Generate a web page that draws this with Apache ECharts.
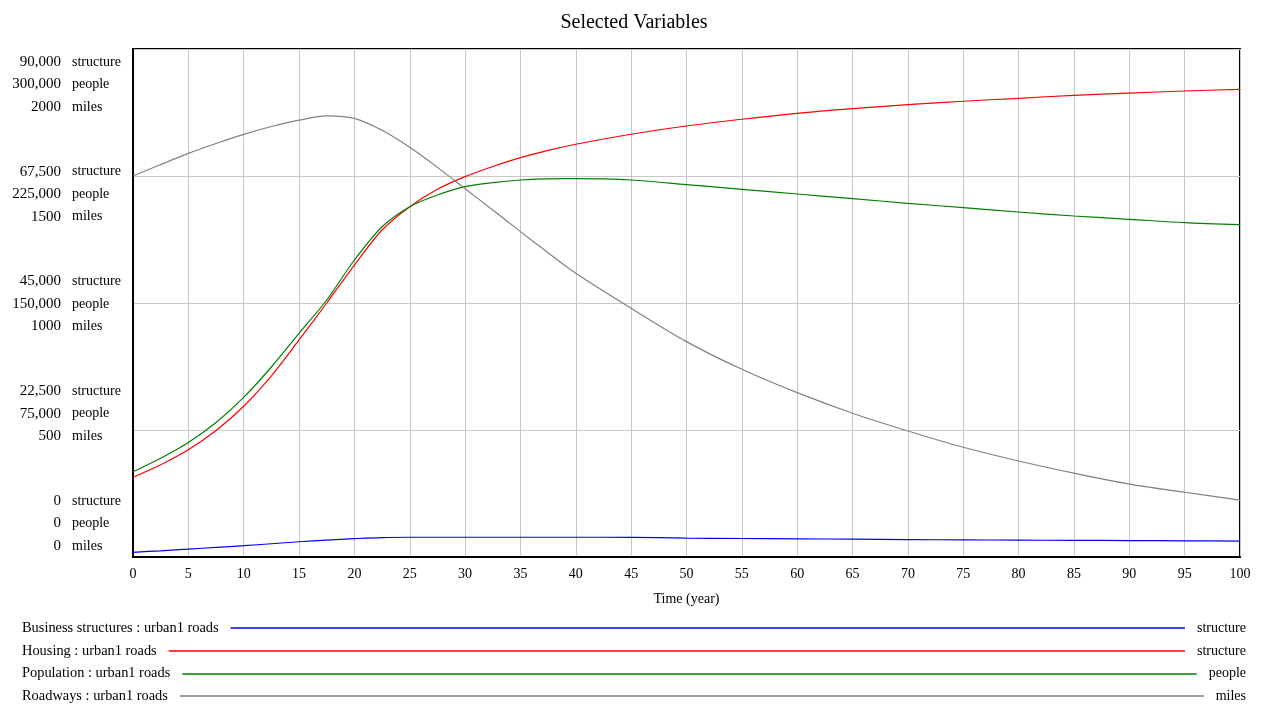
<!DOCTYPE html>
<html>
<head>
<meta charset="utf-8">
<script src="https://cdn.jsdelivr.net/npm/echarts@6/dist/echarts.min.js"></script>
<style>
html,body{margin:0;padding:0;background:#fff;}
#chart{width:1262px;height:707px;}
</style>
</head>
<body>
<div id="chart"></div>
<script>
// ---- data ----
const years = [0,2.5,5,7.5,10,12.5,15,17.5,20,22.5,25,27.5,30,32.5,35,37.5,40,45,50,55,60,65,70,75,80,85,90,95,100];
const businessStructures = [830,1100,1400,1700,2000,2350,2700,3000,3250,3450,3500,3500,3500,3500,3500,3500,3500,3480,3350,3280,3220,3160,3080,3030,2990,2950,2910,2860,2820];
const housing = [14120,16350,19000,22400,26700,32100,38450,45000,51730,57935,62060,65150,67380,69190,70760,72050,73130,74900,76360,77550,78610,79430,80130,80740,81270,81800,82200,82560,82860];
const population = [50370,58300,67600,79400,94300,112200,132100,151770,175400,195060,206870,213780,218680,221100,222640,223350,223400,222640,219900,217140,214370,211590,208880,206280,203740,201370,199430,197420,196240];
const roadways = [1500,1545,1589,1628,1664,1695,1720,1737,1727,1680,1613,1534,1450,1366,1281,1198,1117,979,848,739,647,566,496,432,378,330,287,255,224];

const structureTicks = ['90,000','67,500','45,000','22,500','0'];
const peopleTicks = ['300,000','225,000','150,000','75,000','0'];
const milesTicks = ['2000','1500','1000','500','0'];

const legendNames = ['Business structures : urban1 roads','Housing : urban1 roads','Population : urban1 roads','Roadways : urban1 roads'];
const legendUnits = ['structure','structure','people','miles'];
const seriesColors = ['#0000ff','#ff0000','#008000','#808080'];

// ---- chart ----
const FONT = "'Liberation Serif', 'Times New Roman', serif";
const NAME_FONT = '14.4px ' + FONT;
const UNIT_FONT = '14px ' + FONT;
const NUM_FONT = '15px ' + FONT;
const chart = echarts.init(document.getElementById('chart'));

function pairs(vals){ return years.map((t,i)=>[t, vals[i]]); }

const ctx = document.createElement('canvas').getContext('2d');
function tw(s, font){ ctx.font = font; return ctx.measureText(s).width; }

const graphics = [];
// y axis labels
for (let i = 0; i < 5; i++) {
  const base = 62 + i * 109.75;
  const rows = [[structureTicks[i],'structure',base],[peopleTicks[i],'people',base+22.5],[milesTicks[i],'miles',base+45]];
  rows.forEach(r => {
    graphics.push({type:'text', style:{text:r[0], x:61, y:r[2], fill:'#000', font:NUM_FONT, textAlign:'right', textVerticalAlign:'middle'}});
    graphics.push({type:'text', style:{text:r[1], x:72, y:r[2], fill:'#000', font:UNIT_FONT, textAlign:'left', textVerticalAlign:'middle'}});
  });
}
// legend
const legendY = [628, 651, 673.5, 696];
legendNames.forEach((n, i) => {
  const y = legendY[i];
  graphics.push({type:'text', style:{text:n, x:22, y:y, fill:'#000', font:NAME_FONT, textAlign:'left', textVerticalAlign:'middle'}});
  graphics.push({type:'text', style:{text:legendUnits[i], x:1246, y:y, fill:'#000', font:UNIT_FONT, textAlign:'right', textVerticalAlign:'middle'}});
  const x1 = 22 + tw(n, NAME_FONT) + 12;
  const x2 = 1246 - tw(legendUnits[i], UNIT_FONT) - 12;
  graphics.push({type:'line', shape:{x1:x1, y1:Math.round(y), x2:x2, y2:Math.round(y)}, style:{stroke:seriesColors[i], lineWidth:1.5}});
});

const option = {
  animation: false,
  backgroundColor: '#fff',
  title: {
    text: 'Selected Variables',
    left: 629, top: 8, textAlign: 'center',
    textStyle: {fontFamily: FONT, fontSize: 20, fontWeight: 'normal', color: '#000'}
  },
  grid: {left: 133, right: 22, top: 49, bottom: 150, show: true, borderColor: '#000', borderWidth: 2, backgroundColor: 'transparent'},
  xAxis: {
    type: 'value', min: 0, max: 100, interval: 5,
    name: 'Time (year)', nameLocation: 'middle', nameGap: 35,
    nameTextStyle: {fontFamily: FONT, fontSize: 14, color: '#000'},
    axisLine: {show: true, lineStyle: {color: '#000', width: 2}},
    axisTick: {show: false},
    axisLabel: {fontFamily: FONT, fontSize: 14, color: '#000', margin: 10},
    splitLine: {show: true, lineStyle: {color: '#c8c8c8', width: 1}}
  },
  yAxis: [
    {type: 'value', min: 0, max: 90000, interval: 22500, axisLabel: {show: false}, axisTick: {show: false},
     axisLine: {show: true, lineStyle: {color: '#000', width: 2}},
     splitLine: {show: true, lineStyle: {color: '#c8c8c8', width: 1}}},
    {type: 'value', min: 0, max: 300000, interval: 75000, show: false, splitLine: {show: false}},
    {type: 'value', min: 0, max: 2000, interval: 500, show: false, splitLine: {show: false}}
  ],
  series: [
    {name: legendNames[0], type: 'line', yAxisIndex: 0, data: pairs(businessStructures), showSymbol: false, smooth: 0.3, lineStyle: {color: seriesColors[0], width: 1.2}, itemStyle:{color: seriesColors[0]}},
    {name: legendNames[1], type: 'line', yAxisIndex: 0, data: pairs(housing), showSymbol: false, smooth: 0.3, lineStyle: {color: seriesColors[1], width: 1.2}, itemStyle:{color: seriesColors[1]}},
    {name: legendNames[2], type: 'line', yAxisIndex: 1, data: pairs(population), showSymbol: false, smooth: 0.3, lineStyle: {color: seriesColors[2], width: 1.2}, itemStyle:{color: seriesColors[2]}},
    {name: legendNames[3], type: 'line', yAxisIndex: 2, data: pairs(roadways), showSymbol: false, smooth: 0.3, lineStyle: {color: seriesColors[3], width: 1.2}, itemStyle:{color: seriesColors[3]}}
  ],
  graphic: {elements: graphics}
};
chart.setOption(option);
</script>
</body>
</html>
